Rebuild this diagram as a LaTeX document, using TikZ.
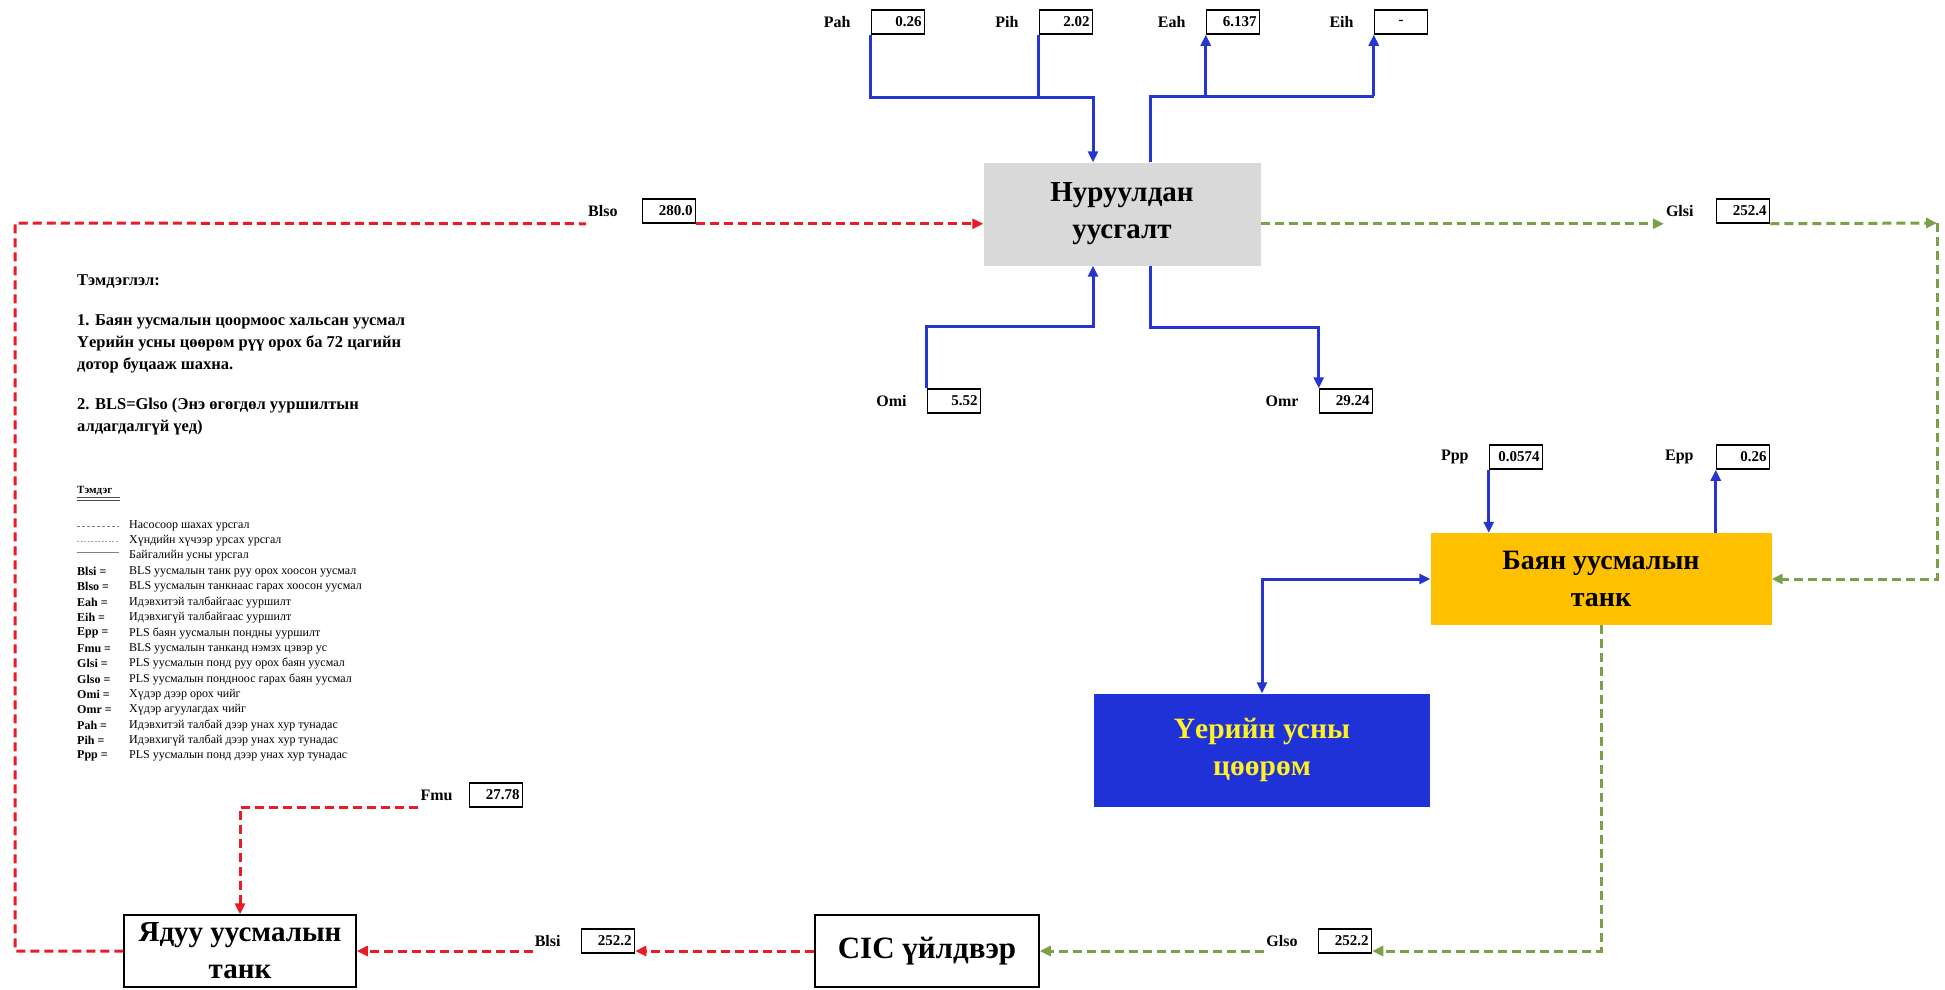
\documentclass[tikz,border=0pt]{standalone}
\usepackage{fontspec}
\setmainfont{Liberation Serif}
\usetikzlibrary{positioning, arrows.meta, calc}
\definecolor{flowblue}{RGB}{38,52,210}
\definecolor{flowred}{RGB}{230,28,40}
\definecolor{flowgreen}{RGB}{122,160,72}
\definecolor{heapgray}{RGB}{217,217,217}
\definecolor{pondblue}{RGB}{30,50,215}
\definecolor{tankorange}{RGB}{255,192,0}
\definecolor{pondtext}{RGB}{255,240,40}

\begin{document}
\begin{tikzpicture}[
	x=1pt, y=-1pt,
	>={Triangle[width=10pt,length=11pt]},
	% Define styles for the blocks and flows
	process/.style={
		align=center,
		font=\fontsize{29}{37}\selectfont\bfseries,
		inner sep=0pt
	},
	valbox/.style={
		draw=black,
		line width=1.5pt,
		minimum height=24pt,
		text width=47pt,
		align=right,
		inner sep=3pt,
		font=\fontsize{15}{16}\selectfont\bfseries
	},
	varname/.style={
		font=\fontsize{16}{17}\selectfont\bfseries,
		inner sep=2pt
	},
	natural/.style={draw=flowblue, line width=3pt},
	pumped/.style={draw=flowred, line width=3pt, dash pattern=on 9pt off 5pt},
	gravity/.style={draw=flowgreen, line width=3pt, dash pattern=on 9pt off 5pt},
	note_text/.style={
		anchor=west, align=left, inner sep=0pt,
		font=\fontsize{16.5}{22}\selectfont\bfseries
	},
	legend_text/.style={
		anchor=west, inner sep=0pt,
		font=\fontsize{12}{14}\selectfont
	}
	]
	
	\path[fill=white, use as bounding box] (0,0) rectangle (1945,989);
	
	% --- 1. MAIN BLOCKS ---
	\node[process, fill=heapgray, minimum width=277pt, minimum height=103pt] (heap) at (1122,214) {Нуруулдан\\уусгалт};
	\node[process, fill=tankorange, font=\fontsize{28}{37}\selectfont\bfseries, minimum width=341pt, minimum height=92pt] (richtank) at (1601,579) {Баян уусмалын\\танк};
	\node[process, fill=pondblue, text=pondtext, font=\fontsize{29.5}{37}\selectfont\bfseries, minimum width=336pt, minimum height=113pt] (pond) at (1262,750) {Үерийн усны\\цөөрөм};
	\node[process, draw, line width=1.5pt, font=\fontsize{31}{37}\selectfont\bfseries, minimum width=224pt, minimum height=72pt] (plant) at (927,951) {CIC үйлдвэр};
	\node[process, draw, line width=1.5pt, minimum width=232pt, minimum height=72pt] (poortank) at (240,951) {Ядуу уусмалын\\танк};
	
	% --- 2. PRECIPITATION / EVAPORATION ON HEAP ---
	\node[valbox] (pahval) at (898,22) {0.26};
	\node[varname, left=18pt of pahval] (pahlbl) {Pah};
	\node[valbox] (pihval) at (1066,22) {2.02};
	\node[varname, left=18pt of pihval] (pihlbl) {Pih};
	\node[valbox] (eahval) at (1233,22) {6.137};
	\node[varname, left=18pt of eahval] (eahlbl) {Eah};
	\node[valbox] (eihval) at (1401,22) {\makebox[47pt][c]{-}};
	\node[varname, left=18pt of eihval] (eihlbl) {Eih};
	
	\draw[natural, ->] (pahval.south west) -- ++(0,63) -| ([xshift=-29pt]heap.north);
	\draw[natural] (pihval.south west) -- ++(0,63);
	\draw[natural] ([xshift=28pt]heap.north) -- ++(0,-66) coordinate (evapline) -- (eihval.south west |- evapline);
	\draw[natural, ->] (eahval.south west |- evapline) -- (eahval.south west);
	\draw[natural, ->] (eihval.south west |- evapline) -- (eihval.south west);
	
	% --- 3. ORE MOISTURE ---
	\node[valbox] (omival) at (954,401) {5.52};
	\node[varname, left=18pt of omival] (omilbl) {Omi};
	\node[valbox] (omrval) at (1346,401) {29.24};
	\node[varname, left=18pt of omrval] (omrlbl) {Omr};
	
	\draw[natural, ->] (omival.north west) -- ++(0,-62) -| ([xshift=-29pt]heap.south);
	\draw[natural, ->] ([xshift=28pt]heap.south) -- ++(0,62) -| (omrval.north west);
	
	% --- 4. BARREN SOLUTION TO HEAP ---
	\node[valbox] (blsoval) at (669,211) {280.0};
	\node[varname, left=22pt of blsoval] (blsolbl) {Blso};
	\coordinate (westturn) at (15,223);
	
	\draw[pumped] (poortank.west) -| (westturn) -- (blsolbl.west |- blsoval.south);
	\draw[pumped, ->] (blsoval.south east) -- (blsoval.south east -| heap.west);
	
	% --- 5. PREGNANT SOLUTION TO POND ---
	\node[valbox] (glsival) at (1743,211) {252.4};
	\node[varname, left=20pt of glsival] (glsilbl) {Glsi};
	\coordinate (eastturn) at (1937,223);
	
	\draw[gravity, ->] (glsival.south -| heap.east) -- (glsilbl.west |- glsival.south);
	\draw[gravity, ->] (glsival.south east) -- (eastturn);
	\draw[gravity, ->] (eastturn) |- (richtank.east);
	
	% --- 6. POND PRECIPITATION / EVAPORATION ---
	\node[valbox] (pppval) at (1516,457) {0.0574};
	\node[varname, left=18pt of pppval] (ppplbl) {Ppp};
	\node[valbox] (eppval) at (1743,457) {0.26};
	\node[varname, left=20pt of eppval] (epplbl) {Epp};
	
	\draw[natural, ->] (pppval.south west) -- (pppval.south west |- richtank.north);
	\draw[natural, ->] (eppval.south west |- richtank.north) -- (eppval.south west);
	\draw[natural, <->] (pond.north) |- (richtank.west);
	
	% --- 7. POND TO PLANT TO BARREN TANK ---
	\node[valbox] (glsoval) at (1345,941) {252.2};
	\node[varname, left=18pt of glsoval] (glsolbl) {Glso};
	\draw[gravity, ->] (richtank.south) |- (glsoval.east |- plant.east);
	\draw[gravity, ->] (glsolbl.west |- plant.east) -- (plant.east);
	
	\node[valbox] (blsival) at (608,941) {252.2};
	\node[varname, left=18pt of blsival] (blsilbl) {Blsi};
	\draw[pumped, ->] (plant.west) -- (blsival.east |- plant.west);
	\draw[pumped, ->] (blsilbl.west |- plant.west) -- (poortank.east);
	
	% Fresh water make-up
	\node[valbox] (fmuval) at (496,795) {27.78};
	\node[varname, left=14pt of fmuval] (fmulbl) {Fmu};
	\draw[pumped, ->] (fmulbl.west |- fmuval.south) -| (poortank.north);
	
	% --- 8. NOTES ---
	\node[note_text] (notehead) at (77,282) {Тэмдэглэл:};
	\node[note_text] (noteone) at (77,344) {1. Баян уусмалын цоормоос хальсан уусмал\\Үерийн усны цөөрөм рүү орох ба 72 цагийн\\дотор буцааж шахна.};
	\node[note_text] (notetwo) at (77,417) {2. BLS=Glso (Энэ өгөгдөл ууршилтын\\алдагдалгүй үед)};
	
	% --- 9. LEGEND ---
	\node[legend_text, font=\fontsize{11}{12}\selectfont\bfseries] (keyhead) at (77,491) {Тэмдэг};
	\draw[gray!60!black, line width=0.8pt] ([yshift=-2pt]keyhead.south west) -- ([xshift=8pt, yshift=-2pt]keyhead.south east);
	\draw[gray!60!black, line width=0.8pt] ([yshift=-4.5pt]keyhead.south west) -- ([xshift=8pt, yshift=-4.5pt]keyhead.south east);
	
	\node[legend_text] (keypump) at (129,526) {Насосоор шахах урсгал};
	\node[legend_text] (keygrav) at (129,541) {Хүндийн хүчээр урсах урсгал};
	\node[legend_text] (keynat) at (129,556) {Байгалийн усны урсгал};
	\draw[gray, line width=0.8pt, dash pattern=on 3pt off 2pt] (77,526) -- ([xshift=-10pt]keypump.west);
	\draw[gray!70, line width=0.8pt, dash pattern=on 2pt off 1.5pt] (77,541) -- ([xshift=-10pt]keygrav.west);
	\draw[gray, line width=0.6pt] (77,552) -- ([xshift=-10pt]keynat.west |- 0,552);
	
	\foreach \key/\desc [count=\i] in {
		Blsi/BLS уусмалын танк руу орох хоосон уусмал,
		Blso/BLS уусмалын танкнаас гарах хоосон уусмал,
		Eah/Идэвхитэй талбайгаас ууршилт,
		Eih/Идэвхигүй талбайгаас ууршилт,
		Epp/PLS баян уусмалын пондны ууршилт,
		Fmu/BLS уусмалын танканд нэмэх цэвэр ус,
		Glsi/PLS уусмалын понд руу орох баян уусмал,
		Glso/PLS уусмалын пондноос гарах баян уусмал,
		Omi/Хүдэр дээр орох чийг,
		Omr/Хүдэр агуулагдах чийг,
		Pah/Идэвхитэй талбай дээр унах хур тунадас,
		Pih/Идэвхигүй талбай дээр унах хур тунадас,
		Ppp/PLS уусмалын понд дээр унах хур тунадас}
	{
		\node[legend_text, font=\fontsize{12}{14}\selectfont\bfseries] (key\i) at (77,{556+15.4*\i}) {\key\ =};
		\node[legend_text] (desc\i) at (129,{556+15.4*\i}) {\desc};
	}
	
\end{tikzpicture}
\end{document}
